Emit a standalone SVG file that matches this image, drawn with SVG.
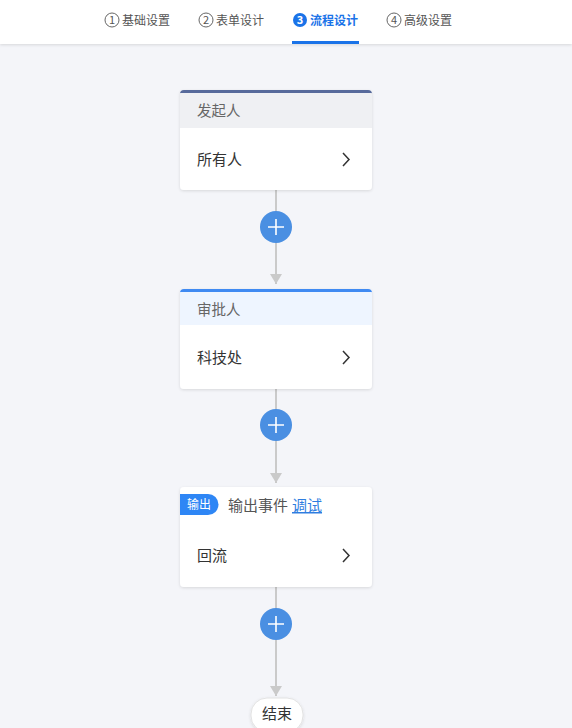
<svg xmlns="http://www.w3.org/2000/svg" width="572" height="728" viewBox="0 0 572 728">
<defs>
<style>
text{font-family:"Noto Sans CJK SC","Noto Sans",sans-serif;}
.tab{font-size:12px;fill:#555;}
.num{font-size:11px;fill:#555;text-anchor:middle;}
.hd{font-size:14.5px;fill:#666;}
.bd{font-size:15px;fill:#333;}
.card{fill:#fff;}
.line{stroke:#cacaca;stroke-width:2;fill:none;}
.plus{fill:#4a8fe2;}
.pl{stroke:#fff;stroke-width:1.6;}
.chev{fill:none;stroke:#333;stroke-width:1.5;}
</style>
<filter id="sh" x="-10%" y="-10%" width="120%" height="130%">
<feDropShadow dx="0" dy="1" stdDeviation="1.5" flood-color="#000" flood-opacity="0.12"/>
</filter>
<marker id="arr" viewBox="0 0 10 12" refX="10" refY="6" markerWidth="10" markerHeight="12" markerUnits="userSpaceOnUse" orient="auto">
<path d="M0,0 L10,6 L0,12 Z" fill="#cacaca"/>
</marker>
</defs>
<rect width="572" height="728" fill="#f4f5f9"/>
<g id="topbar">
<rect x="0" y="0" width="572" height="44" fill="#fff" filter="url(#sh)"/>
<circle cx="112" cy="20" r="7" fill="none" stroke="#666" stroke-width="1"/>
<text class="num" x="112" y="24">1</text>
<text class="tab" x="122" y="24.5">基础设置</text>
<circle cx="206" cy="20" r="7" fill="none" stroke="#666" stroke-width="1"/>
<text class="num" x="206" y="24">2</text>
<text class="tab" x="216" y="24.5">表单设计</text>
<circle cx="300" cy="20" r="7" fill="#1a73e8"/>
<text class="num" x="300" y="24" style="fill:#fff;font-weight:bold">3</text>
<text class="tab" x="310" y="24.5" style="fill:#1a73e8;font-weight:bold">流程设计</text>
<rect x="292" y="41" width="67" height="3" fill="#1a73e8"/>
<circle cx="394" cy="20" r="7" fill="none" stroke="#666" stroke-width="1"/>
<text class="num" x="394" y="24">4</text>
<text class="tab" x="404" y="24.5">高级设置</text>
</g>
<g id="connectors">
<line class="line" x1="276" y1="190" x2="276" y2="284" marker-end="url(#arr)"/>
<line class="line" x1="276" y1="389" x2="276" y2="483" marker-end="url(#arr)"/>
<line class="line" x1="276" y1="587" x2="276" y2="696" marker-end="url(#arr)"/>
</g>
<g id="node-start">
<rect class="card" x="180" y="90" width="192" height="100" rx="4" filter="url(#sh)"/>
<path d="M180,128 V94 a4,4 0 0 1 4,-4 H368 a4,4 0 0 1 4,4 V128 Z" fill="#eff0f3"/>
<path d="M180,94 a4,4 0 0 1 4,-4 H368 a4,4 0 0 1 4,4 V93 H180 Z" fill="#576a9b"/>
<text class="hd" x="197" y="116">发起人</text>
<text class="bd" x="197" y="165">所有人</text>
<path class="chev" d="M343,153 L349,159.5 L343,166"/>
</g>
<g id="add1">
<circle class="plus" cx="276" cy="227" r="16"/>
<path class="pl" d="M268,227 H284 M276,219 V235"/>
</g>
<g id="node-approver">
<rect class="card" x="180" y="289" width="192" height="100" rx="4" filter="url(#sh)"/>
<path d="M180,325 V293 a4,4 0 0 1 4,-4 H368 a4,4 0 0 1 4,4 V325 Z" fill="#eef5ff"/>
<path d="M180,293 a4,4 0 0 1 4,-4 H368 a4,4 0 0 1 4,4 V292 H180 Z" fill="#3f8af2"/>
<text class="hd" x="197" y="315">审批人</text>
<text class="bd" x="197" y="363">科技处</text>
<path class="chev" d="M343,351 L349,357.5 L343,364"/>
</g>
<g id="add2">
<circle class="plus" cx="276" cy="425" r="16"/>
<path class="pl" d="M268,425 H284 M276,417 V433"/>
</g>
<g id="node-output">
<rect class="card" x="180" y="487" width="192" height="100" rx="4" filter="url(#sh)"/>
<path d="M180,494 H208 a10.5,10.5 0 0 1 0,21 H180 Z" fill="#2e86f5"/>
<text x="187" y="509" style="font-size:12px;fill:#fff">输出</text>
<text x="228" y="511" style="font-size:15px;fill:#555">输出事件</text>
<text x="292" y="511" style="font-size:15px;fill:#2e7de0;text-decoration:underline">调试</text>
<text class="bd" x="197" y="561">回流</text>
<path class="chev" d="M343,549 L349,555.5 L343,562"/>
</g>
<g id="add3">
<circle class="plus" cx="276" cy="624" r="16"/>
<path class="pl" d="M268,624 H284 M276,616 V632"/>
</g>
<g id="node-end">
<rect x="251" y="698" width="52" height="34" rx="16" fill="#fff" stroke="#e2e2e2" stroke-width="1" filter="url(#sh)"/>
<text x="277" y="719" style="font-size:15px;fill:#333;text-anchor:middle">结束</text>
</g>
</svg>
